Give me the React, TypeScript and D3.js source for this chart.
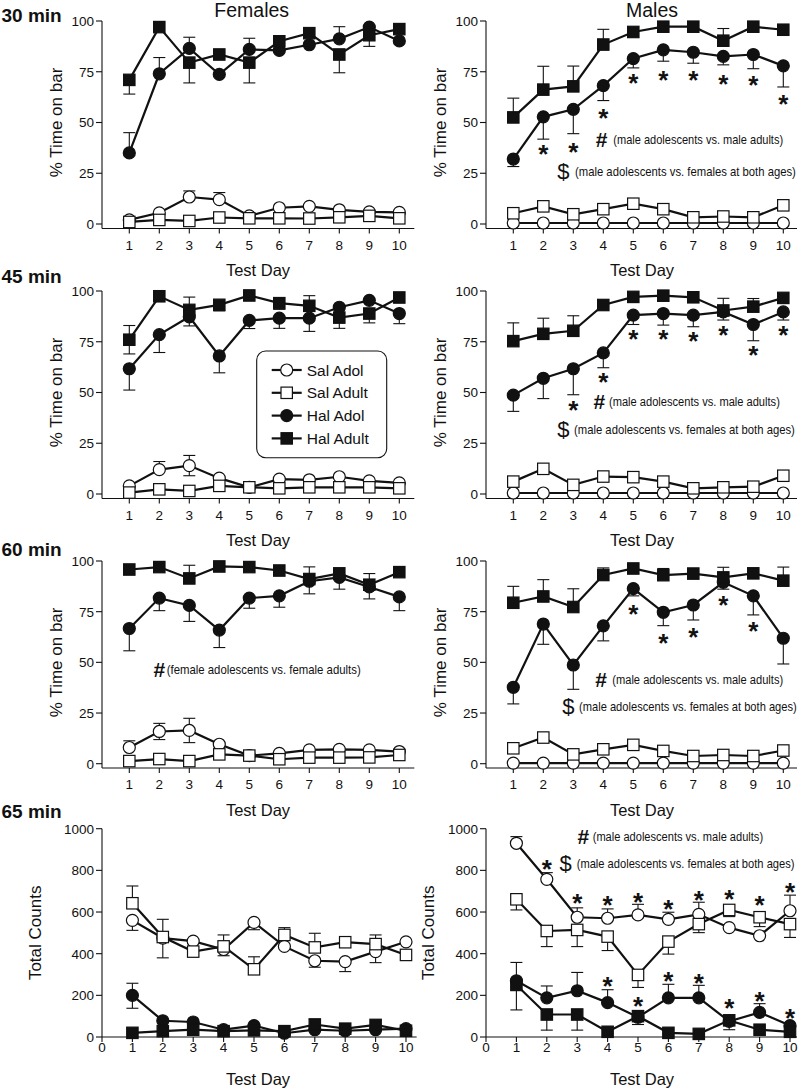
import React from 'react';
import * as d3 from 'd3';

const FONT = "'Liberation Sans', Arial, Helvetica, sans-serif";

type Err = number | [number, number];

const days = [1, 2, 3, 4, 5, 6, 7, 8, 9, 10];
const pctTicks = [0, 25, 50, 75, 100];
const countTicks = [0, 200, 400, 600, 800, 1000];
const pctDayTicks = [1, 2, 3, 4, 5, 6, 7, 8, 9, 10];
const countDayTicks = [0, 1, 2, 3, 4, 5, 6, 7, 8, 9, 10];
const seriesNames = ['Sal Adol', 'Sal Adult', 'Hal Adol', 'Hal Adult'];
const rowLabels = ['30 min', '45 min', '60 min', '65 min'];
const colTitles = ['Females', 'Males'];

// ---------- 30 min, Females ----------
const f30SalAdol = [2, 5.5, 13.3, 12, 4, 8, 8.7, 7, 6, 5.7];
const f30SalAdolErr: Err[] = [0, 0, 3, 3.5, 0, 0, 0, 0, 0, 0];
const f30SalAdult = [1, 2, 1.5, 3.2, 2.8, 2.8, 2.7, 3.3, 4, 2.8];
const f30SalAdultErr: Err[] = [0, 0, 0, 0, 0, 0, 0, 0, 0, 0];
const f30HalAdol = [35, 74, 86.5, 73.7, 86, 85.5, 88.3, 91.2, 97, 90.2];
const f30HalAdolErr: Err[] = [10, 8, 5.5, 0, 5.5, 0, 0, 6, 0, 0];
const f30HalAdult = [71, 97, 79.5, 83.5, 79.5, 90, 94, 83.5, 93, 96];
const f30HalAdultErr: Err[] = [-7, 0, -10, 0, -10, 0, 0, -9, -5.5, 0];

// ---------- 30 min, Males ----------
const m30SalAdol = [0.5, 0.5, 0.5, 0.5, 0.5, 0.5, 0.5, 0.5, 0.5, 0.5];
const m30SalAdolErr: Err[] = [0, 0, 0, 0, 0, 0, 0, 0, 0, 0];
const m30SalAdult = [5.3, 8.7, 4.8, 7.3, 10, 7.3, 3.3, 3.7, 3.3, 9.2];
const m30SalAdultErr: Err[] = [0, 0, 0, 0, 0, 0, 0, 0, 0, 0];
const m30HalAdol = [32, 52.8, 56.5, 68.2, 81.5, 85.8, 84.6, 82.6, 83.5, 77.9];
const m30HalAdolErr: Err[] = [-3.7, -11, -12, -7.4, -4.6, -5.6, -5.4, -4.2, -7, -10.4];
const m30HalAdult = [52.5, 66.2, 67.8, 88.4, 94.6, 97.2, 97.2, 90.3, 97.2, 95.7];
const m30HalAdultErr: Err[] = [9.5, 11.5, 10, 7.5, 0, 0, 0, 6, 0, 0];
const m30Stars: [number, number][] = [[2, 37.3], [3, 38.7], [4, 55.3], [5, 72.3], [6, 74], [7, 74], [8, 72], [9, 71.5], [10, 62]];

// ---------- 45 min, Females ----------
const f45SalAdol = [4, 12, 14, 7.8, 3.3, 7.3, 7, 8.5, 6.5, 5.5];
const f45SalAdolErr: Err[] = [0, 4, [-5, 5], 0, 0, 0, 0, 0, 0, 0];
const f45SalAdult = [0.7, 2.3, 1.5, 4, 3.3, 2.8, 3.3, 3.3, 3.3, 2.8];
const f45SalAdultErr: Err[] = [0, 0, 0, 0, 0, 0, 0, 0, 0, 0];
const f45HalAdol = [61.7, 78.5, 87.3, 68, 85.5, 86.6, 86.6, 92, 95.4, 88.9];
const f45HalAdolErr: Err[] = [-10.5, -8.8, -4.5, -8.3, -4, -5, -6.5, 0, 0, -5];
const f45HalAdult = [76, 97.4, 90.7, 93.2, 97.8, 94, 92.7, 86.9, 88.9, 96.8];
const f45HalAdultErr: Err[] = [[-7, 7], 0, 6.3, -3, 0, -3, 5, -5.3, -4.6, 0];

// ---------- 45 min, Males ----------
const m45SalAdol = [0.5, 0.5, 0.5, 0.5, 0.5, 0.5, 0.5, 0.5, 0.5, 0.5];
const m45SalAdolErr: Err[] = [0, 0, 0, 0, 0, 0, 0, 0, 0, 0];
const m45SalAdult = [6.1, 12.4, 4.5, 8.6, 8.3, 6.1, 2.8, 3.3, 3.6, 9];
const m45SalAdultErr: Err[] = [0, 0, 0, 0, 0, 0, 0, 0, 0, 0];
const m45HalAdol = [48.7, 57, 61.7, 69.5, 88.1, 88.9, 88.1, 89.7, 83.5, 89.7];
const m45HalAdolErr: Err[] = [-8, -10, -12.8, -7.3, -4.6, -5.7, -5.7, -4, -8, -4];
const m45HalAdult = [75.3, 78.9, 80.4, 93.1, 97.1, 97.7, 96.9, 90.4, 92.3, 96.6];
const m45HalAdultErr: Err[] = [9, 7.7, 7.4, 0, 0, 0, 0, 6, 4, 0];
const m45Stars: [number, number][] = [[3, 44.3], [4, 58], [5, 79.3], [6, 79.3], [7, 78.4], [8, 81.2], [9, 71.5], [10, 81.2]];

// ---------- 60 min, Females ----------
const f60SalAdol = [8, 15.9, 16.4, 9.6, 4, 5.1, 6.8, 7.1, 6.8, 6];
const f60SalAdolErr: Err[] = [3.3, [-4, 4], [-6, 6], 0, 0, 0, 0, 0, 0, 0];
const f60SalAdult = [1.3, 2.3, 1.3, 4.6, 4, 2.2, 3, 3, 3.1, 4.3];
const f60SalAdultErr: Err[] = [0, 0, 0, 0, 0, 0, 0, 0, 0, 0];
const f60HalAdol = [66.7, 81.7, 78.1, 65.9, 81.7, 82.8, 90, 91.9, 87.2, 82.3];
const f60HalAdolErr: Err[] = [-11, -6.2, -7.9, -8.6, -5, -5.6, -6.2, -5.8, -5.9, -6.8];
const f60HalAdult = [95.8, 97, 91.4, 97.3, 97, 95.3, 91.1, 93.9, 88.3, 94.5];
const f60HalAdultErr: Err[] = [0, 0, 6.5, 0, 0, 0, 6, 0, 5.5, 0];

// ---------- 60 min, Males ----------
const m60SalAdol = [0.3, 0.3, 0.3, 0.3, 0.3, 0.3, 0.3, 0.3, 0.3, 0.3];
const m60SalAdolErr: Err[] = [0, 0, 0, 0, 0, 0, 0, 0, 0, 0];
const m60SalAdult = [7.6, 12.9, 4.6, 7.1, 9.3, 6.3, 3.8, 4.3, 3.8, 6.5];
const m60SalAdultErr: Err[] = [0, 0, 0, 0, 0, 0, 0, 0, 0, 0];
const m60HalAdol = [37.7, 68.9, 48.7, 68, 86.4, 74.7, 78.3, 89.5, 82.8, 61.9];
const m60HalAdolErr: Err[] = [-8.2, -10, -12, -7.4, -3.6, -6.6, -7.4, -3.4, -9.4, -12.7];
const m60HalAdult = [79.4, 82.5, 77.3, 93.1, 96.3, 93, 93.8, 91.9, 93.9, 90.3];
const m60HalAdultErr: Err[] = [8.1, 8.3, 9, 3.5, 0, 3.3, 0, 5, 0, 6.7];
const m60Stars: [number, number][] = [[5, 77], [6, 62.6], [7, 65.6], [8, 81.3], [9, 68.5]];

// ---------- 65 min, Females (Total Counts) ----------
const f65SalAdol = [560, 475, 460, 420, 550, 435, 366, 362, 410, 457];
const f65SalAdolErr: Err[] = [-48, -95, 0, -30, -35, 0, -31, -48, -53, 0];
const f65SalAdult = [642, 480, 410, 435, 325, 490, 430, 455, 446, 394];
const f65SalAdultErr: Err[] = [83, 85, 0, 55, 60, 35, 68, 0, 44, 0];
const f65HalAdol = [200, 78, 72, 35, 55, 18, 35, 30, 35, 40];
const f65HalAdolErr: Err[] = [[-62, 58], 0, 0, 0, 0, 0, 0, 0, 0, 0];
const f65HalAdult = [20, 28, 35, 28, 32, 28, 60, 40, 58, 30];
const f65HalAdultErr: Err[] = [0, 0, 0, 0, 0, 0, 25, 0, 0, 0];

// ---------- 65 min, Males (Total Counts) ----------
const m65SalAdol = [930, 757, 575, 570, 586, 565, 589, 525, 486, 606];
const m65SalAdolErr: Err[] = [32, 32, 45, 45, 51, 34, 58, 0, 0, 75];
const m65SalAdult = [661, 509, 514, 482, 298, 458, 542, 610, 575, 542];
const m65SalAdultErr: Err[] = [-51, -75, -80, -67, -60, -60, -41, -32, -45, -64];
const m65HalAdol = [270, 188, 222, 165, 95, 188, 188, 75, 118, 55];
const m65HalAdolErr: Err[] = [88, 57, 88, 62, 0, 65, 60, 0, 42, 0];
const m65HalAdult = [250, 108, 108, 25, 100, 20, 15, 80, 35, 25];
const m65HalAdultErr: Err[] = [-120, -75, -75, 0, -40, 0, 0, -45, 0, 0];
const m65Stars: [number, number][] = [
  [2, 834], [3, 674], [4, 661], [5, 677], [6, 642], [7, 686], [8, 690], [9, 664], [10, 725],
  [4, 274], [5, 178], [6, 298], [7, 290], [8, 170], [9, 202], [10, 122],
];

// ---------- annotation texts ----------
const noteMaleAdults = '(male adolescents vs. male adults)';
const noteMaleFemales = '(male adolescents vs. females at both ages)';
const noteFemale = '(female adolescents vs. female adults)';

interface SeriesDef { name: string; shape: 'circle' | 'square'; filled: boolean; values: number[]; err: Err[] }
interface Note { sym: string; sx: number; sy: number; text: string; tx: number; len: number }
interface RowGeom { top: number; zero: number; axisY: number; tickDy: number }
interface PanelDef {
  row: number; col: number; kind: 'pct' | 'count'; series: SeriesDef[];
  stars: [number, number][]; notes: Note[]; legend?: boolean;
}

const mk = (vals: number[][], errs: Err[][]): SeriesDef[] =>
  seriesNames.map((name, i) => ({ name, shape: i % 2 === 0 ? 'circle' : 'square', filled: i >= 2, values: vals[i], err: errs[i] }));

const rows: RowGeom[] = [
  { top: 21, zero: 224, axisY: 228.5, tickDy: 16.5 },
  { top: 291, zero: 494, axisY: 498.5, tickDy: 16.5 },
  { top: 561, zero: 763.7, axisY: 768, tickDy: 16.5 },
  { top: 828.7, zero: 1037, axisY: 1037, tickDy: 10 },
];
const colAxisX = [102, 486];
const colYLabelX = [61.5, 446];
const colCountLabelX = [41, 434];
const colCenterX = [258, 642];

const panels: PanelDef[] = [
  { row: 0, col: 0, kind: 'pct', series: mk([f30SalAdol, f30SalAdult, f30HalAdol, f30HalAdult], [f30SalAdolErr, f30SalAdultErr, f30HalAdolErr, f30HalAdultErr]), stars: [], notes: [] },
  { row: 0, col: 1, kind: 'pct', series: mk([m30SalAdol, m30SalAdult, m30HalAdol, m30HalAdult], [m30SalAdolErr, m30SalAdultErr, m30HalAdolErr, m30HalAdultErr]), stars: m30Stars,
    notes: [
      { sym: '#', sx: 601.7, sy: 140, text: noteMaleAdults, tx: 613.3, len: 170 },
      { sym: '$', sx: 563.3, sy: 171.7, text: noteMaleFemales, tx: 575, len: 221 },
    ] },
  { row: 1, col: 0, kind: 'pct', series: mk([f45SalAdol, f45SalAdult, f45HalAdol, f45HalAdult], [f45SalAdolErr, f45SalAdultErr, f45HalAdolErr, f45HalAdultErr]), stars: [], notes: [], legend: true },
  { row: 1, col: 1, kind: 'pct', series: mk([m45SalAdol, m45SalAdult, m45HalAdol, m45HalAdult], [m45SalAdolErr, m45SalAdultErr, m45HalAdolErr, m45HalAdultErr]), stars: m45Stars,
    notes: [
      { sym: '#', sx: 599.3, sy: 401.7, text: noteMaleAdults, tx: 609, len: 171 },
      { sym: '$', sx: 563.3, sy: 429.3, text: noteMaleFemales, tx: 574, len: 221 },
    ] },
  { row: 2, col: 0, kind: 'pct', series: mk([f60SalAdol, f60SalAdult, f60HalAdol, f60HalAdult], [f60SalAdolErr, f60SalAdultErr, f60HalAdolErr, f60HalAdultErr]), stars: [],
    notes: [{ sym: '#', sx: 159.3, sy: 670, text: noteFemale, tx: 166.7, len: 194.3 }] },
  { row: 2, col: 1, kind: 'pct', series: mk([m60SalAdol, m60SalAdult, m60HalAdol, m60HalAdult], [m60SalAdolErr, m60SalAdultErr, m60HalAdolErr, m60HalAdultErr]), stars: m60Stars,
    notes: [
      { sym: '#', sx: 601, sy: 680, text: noteMaleAdults, tx: 612.3, len: 171 },
      { sym: '$', sx: 568.3, sy: 706.7, text: noteMaleFemales, tx: 579, len: 218 },
    ] },
  { row: 3, col: 0, kind: 'count', series: mk([f65SalAdol, f65SalAdult, f65HalAdol, f65HalAdult], [f65SalAdolErr, f65SalAdultErr, f65HalAdolErr, f65HalAdultErr]), stars: [], notes: [] },
  { row: 3, col: 1, kind: 'count', series: mk([m65SalAdol, m65SalAdult, m65HalAdol, m65HalAdult], [m65SalAdolErr, m65SalAdultErr, m65HalAdolErr, m65HalAdultErr]), stars: m65Stars,
    notes: [
      { sym: '#', sx: 583.3, sy: 836.7, text: noteMaleAdults, tx: 592.7, len: 170.6 },
      { sym: '$', sx: 565.7, sy: 863.3, text: noteMaleFemales, tx: 576.7, len: 218 },
    ] },
];

const INK = '#111';
const NOTE_FS = 12.5;

let measureCtx: CanvasRenderingContext2D | null = null;
function measureText(text: string, fs: number): number {
  if (!measureCtx) measureCtx = document.createElement('canvas').getContext('2d');
  if (!measureCtx) return text.length * fs * 0.5;
  measureCtx.font = `${fs}px 'Liberation Sans', Arial, sans-serif`;
  return measureCtx.measureText(text).width;
}

function Marker({ shape, filled, cx, cy, r = 6 }: { shape: string; filled: boolean; cx: number; cy: number; r?: number }) {
  const fill = filled ? INK : '#fff';
  if (shape === 'circle') return <circle cx={cx} cy={cy} r={r} fill={fill} stroke={INK} strokeWidth={1.2} />;
  return <rect x={cx - r + 0.3} y={cy - r + 0.3} width={2 * r - 0.6} height={2 * r - 0.6} fill={fill} stroke={INK} strokeWidth={1.2} />;
}

function ErrorBar({ x, v, e, y }: { x: number; v: number; e: Err; y: d3.ScaleLinear<number, number> }) {
  const ends: number[] = [];
  if (Array.isArray(e)) { ends.push(v + e[0], v + e[1]); }
  else if (e !== 0) ends.push(v + e);
  const cap = 6;
  return (
    <g stroke={INK} strokeWidth={1.1}>
      {ends.map((end, i) => (
        <g key={i}>
          <line x1={x} x2={x} y1={y(v)} y2={y(end)} />
          <line x1={x - cap} x2={x + cap} y1={y(end)} y2={y(end)} />
        </g>
      ))}
    </g>
  );
}

function Panel({ p }: { p: PanelDef }) {
  const g = rows[p.row];
  const axisX = colAxisX[p.col];
  const x = p.kind === 'pct'
    ? d3.scaleLinear().domain([0.09, 10.5]).range([axisX, axisX + 10.41 * 30])
    : d3.scaleLinear().domain([0, 10.35]).range([axisX, axisX + 10.35 * 30.4]);
  const y = d3.scaleLinear().domain(p.kind === 'pct' ? [0, 100] : [0, 1000]).range([g.zero, g.top]);
  const yTicks = p.kind === 'pct' ? pctTicks : countTicks;
  const xTicks = p.kind === 'pct' ? pctDayTicks : countDayTicks;
  const xEnd = Math.min(x.range()[1], 797);
  const line = d3.line<number>().x((_, i) => x(days[i])).y((v) => y(v));
  const yLabel = p.kind === 'pct' ? '% Time on bar' : 'Total Counts';
  const yLabelX = p.kind === 'pct' ? colYLabelX[p.col] : colCountLabelX[p.col];
  const yMid = (g.top + g.zero) / 2;
  const starFs = 26;

  return (
    <g>
      {/* axes */}
      <line x1={axisX} x2={axisX} y1={y(yTicks[yTicks.length - 1])} y2={g.axisY} stroke={INK} strokeWidth={1.1} />
      <line x1={axisX} x2={xEnd} y1={g.axisY} y2={g.axisY} stroke={INK} strokeWidth={1.1} />
      {yTicks.map((t) => (
        <g key={'y' + t}>
          <line x1={axisX - 6} x2={axisX} y1={y(t)} y2={y(t)} stroke={INK} strokeWidth={1.1} />
          <text x={axisX - 8} y={y(t)} dy="0.36em" textAnchor="end" fontSize={13.5} fontFamily={FONT} fill={INK}>{t}</text>
        </g>
      ))}
      {xTicks.map((t) => (
        <g key={'x' + t}>
          <line x1={x(t)} x2={x(t)} y1={g.axisY} y2={g.axisY + 5} stroke={INK} strokeWidth={1.1} />
          <text x={x(t)} y={g.axisY + g.tickDy} dy="0.36em" textAnchor="middle" fontSize={13.5} fontFamily={FONT} fill={INK}>{t}</text>
        </g>
      ))}
      <text x={colCenterX[p.col]} y={g.axisY + 47.5} textAnchor="middle" fontSize={16.5} fontFamily={FONT} fill={INK}>Test Day</text>
      <text transform={`translate(${yLabelX},${yMid}) rotate(-90)`} textAnchor="middle" fontSize={17} fontFamily={FONT} fill={INK}>{yLabel}</text>

      {/* series */}
      {p.series.map((s) => (
        <g key={s.name}>
          {s.values.map((v, i) => <ErrorBar key={i} x={x(days[i])} v={v} e={s.err[i]} y={y} />)}
          <path d={line(s.values) || ''} fill="none" stroke={INK} strokeWidth={2.2} />
          {s.values.map((v, i) => <Marker key={i} shape={s.shape} filled={s.filled} cx={x(days[i])} cy={y(v)} />)}
        </g>
      ))}

      {/* stars */}
      {p.stars.map(([d, v], i) => (
        <text key={'s' + i} x={x(d)} y={y(v) + starFs * 0.58} textAnchor="middle" fontSize={starFs} fontWeight="bold" fontFamily={FONT} fill={INK}>*</text>
      ))}

      {/* notes */}
      {p.notes.map((n, i) => {
        const sx = n.len / measureText(n.text, NOTE_FS);
        return (
          <g key={'n' + i}>
            <text x={n.sx} y={n.sy} dy="0.35em" textAnchor="middle" fontSize={n.sym === '#' ? 21 : 22} fontWeight={n.sym === '#' ? 'bold' : 'normal'} fontFamily={FONT} fill={INK}>{n.sym}</text>
            <g transform={`translate(${n.tx},${n.sy}) scale(${sx},1)`}>
              <text x={0} y={0} dy="0.35em" fontSize={NOTE_FS} fontFamily={FONT} fill={INK}>{n.text}</text>
            </g>
          </g>
        );
      })}

      {p.legend && (
        <g>
          <rect x={256.7} y={351} width={130} height={106.7} rx={9} fill="#fff" stroke={INK} strokeWidth={1.1} />
          {p.series.map((s, i) => {
            const ly = 370 + i * 22.8;
            return (
              <g key={'l' + i}>
                <line x1={271.7} x2={301.7} y1={ly} y2={ly} stroke={INK} strokeWidth={2.2} />
                <Marker shape={s.shape} filled={s.filled} cx={286.7} cy={ly} r={6} />
                <text x={306.7} y={ly} dy="0.36em" fontSize={15.5} fontFamily={FONT} fill={INK}>{s.name}</text>
              </g>
            );
          })}
        </g>
      )}
    </g>
  );
}

const rowLabelBaselines = [22, 283, 556, 818];
const titleX = [251.7, 652];

export default function App() {
  return (
    <svg width={799} height={1088} viewBox="0 0 799 1088" style={{ position: 'absolute', left: 0, top: 0, background: '#fff' }}>
      <rect x={0} y={0} width={799} height={1088} fill="#fff" />
      {colTitles.map((t, i) => (
        <text key={t} x={titleX[i]} y={16.5} textAnchor="middle" fontSize={19.5} fontFamily={FONT} fill={INK}>{t}</text>
      ))}
      {rowLabels.map((t, i) => (
        <text key={t} x={1.5} y={rowLabelBaselines[i]} fontSize={19} fontWeight="bold" fontFamily={FONT} fill={INK}>{t}</text>
      ))}
      {panels.map((p, i) => <Panel key={i} p={p} />)}
    </svg>
  );
}
